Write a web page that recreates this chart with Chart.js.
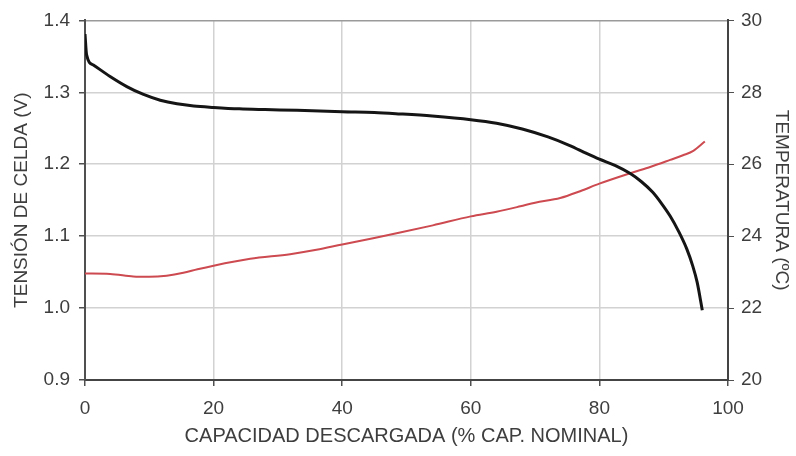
<!DOCTYPE html>
<html>
<head>
<meta charset="utf-8">
<script src="https://cdn.jsdelivr.net/npm/chart.js@4/dist/chart.umd.min.js"></script>
<style>
  html, body { margin: 0; padding: 0; background: #fff; }
  #wrap { width: 796px; height: 456px; }
</style>
</head>
<body>
<div id="wrap"><canvas id="chart"></canvas></div>
<script>
// capacidad descargada (% cap. nominal) -> tensión de celda (V)
const capV = [0, 0.25, 1.3, 3.9, 6.5, 9.1, 11.7, 14.3, 16.9, 20, 24, 28, 33, 40, 45, 49, 54, 60, 64, 68, 72, 75.4, 78, 80, 82.5, 84.8, 86.5, 88.3, 89.7, 91, 92.3, 93.6, 94.5, 95.2, 96];
const tension = [1.381, 1.352, 1.338, 1.322, 1.308, 1.297, 1.289, 1.284, 1.281, 1.279, 1.277, 1.276, 1.275, 1.273, 1.272, 1.27, 1.267, 1.262, 1.257, 1.249, 1.238, 1.226, 1.215, 1.207, 1.198, 1.187, 1.176, 1.161, 1.145, 1.128, 1.107, 1.082, 1.059, 1.036, 0.997];

// capacidad descargada -> temperatura (ºC)
const capT = [0, 3.9, 7.5, 10, 12.7, 15.3, 17.5, 20, 25.7, 31.9, 36, 40, 45, 49, 54.1, 60, 64, 67.7, 70, 73.9, 77, 80, 84.8, 88, 91, 93, 94.6, 96.4];
const temperatura = [22.96, 22.95, 22.88, 22.87, 22.9, 22.98, 23.08, 23.18, 23.37, 23.5, 23.62, 23.77, 23.95, 24.1, 24.3, 24.55, 24.68, 24.83, 24.93, 25.06, 25.25, 25.46, 25.75, 25.93, 26.12, 26.25, 26.37, 26.63];

const xTicks = [0, 20, 40, 60, 80, 100];
const vTicks = [0.9, 1.0, 1.1, 1.2, 1.3, 1.4];
const tTicks = [20, 22, 24, 26, 28, 30];

const ink = "#3e3e3e";
const axis = "#505050";
const grid = "#d2d2d2";
const family = "'Liberation Sans', Arial, sans-serif";
const font = { family, size: 19 };

const pts = (xs, ys) => xs.map((x, i) => ({ x, y: ys[i] }));

new Chart(document.getElementById("chart"), {
  type: "line",
  data: {
    datasets: [
      {
        label: "Tensión",
        data: pts(capV, tension),
        yAxisID: "y",
        borderColor: "#151515",
        borderWidth: 3,
        pointRadius: 0,
        cubicInterpolationMode: "monotone",
      },
      {
        label: "Temperatura",
        data: pts(capT, temperatura),
        yAxisID: "y2",
        borderColor: "#cc4a50",
        borderWidth: 2,
        pointRadius: 0,
        cubicInterpolationMode: "monotone",
      },
    ],
  },
  options: {
    responsive: true,
    maintainAspectRatio: false,
    animation: false,
    layout: { padding: { top: 18, left: 0, right: 0, bottom: 0 } },
    plugins: { legend: { display: false }, tooltip: { enabled: false } },
    scales: {
      x: {
        type: "linear",
        min: 0,
        max: 100,
        afterBuildTicks(s) { s.ticks = xTicks.map((v) => ({ value: v })); },
        afterFit(s) { s.height = 76; },
        grid: { color: grid, lineWidth: 1.5, tickColor: axis, tickLength: 6 },
        border: { color: "#444", width: 2 },
        ticks: { color: ink, font, padding: 11, maxRotation: 0 },
        title: {
          display: true,
          text: "CAPACIDAD DESCARGADA (% CAP. NOMINAL)",
          color: ink,
          font: { family, size: 20 },
          padding: { top: 0, bottom: 8 },
        },
      },
      y: {
        position: "left",
        min: 0.9,
        max: 1.4,
        afterBuildTicks(s) { s.ticks = vTicks.map((v) => ({ value: v })); },
        afterFit(s) { s.width = 85; },
        grid: {
          color: (c) => (c.tick && Math.abs(c.tick.value - 1.4) < 1e-6 ? "#9a9a9a" : grid),
          lineWidth: 1.5,
          tickColor: axis,
          tickLength: 6,
        },
        border: { color: axis, width: 2 },
        ticks: { color: ink, font, padding: 9, callback: (v) => v.toFixed(1) },
        title: {
          display: true,
          text: "TENSIÓN DE CELDA (V)",
          color: ink,
          font,
          padding: { top: 10, bottom: 0 },
        },
      },
      y2: {
        position: "right",
        min: 20,
        max: 30,
        afterBuildTicks(s) { s.ticks = tTicks.map((v) => ({ value: v })); },
        afterFit(s) { s.width = 68; },
        grid: { drawOnChartArea: false, tickColor: axis, tickLength: 6 },
        border: { color: "#444", width: 2 },
        ticks: { color: ink, font, padding: 7 },
        title: {
          display: true,
          text: "TEMPERATURA (ºC)",
          color: ink,
          font,
          padding: { top: 3, bottom: 0 },
        },
      },
    },
  },
});
</script>
</body>
</html>
